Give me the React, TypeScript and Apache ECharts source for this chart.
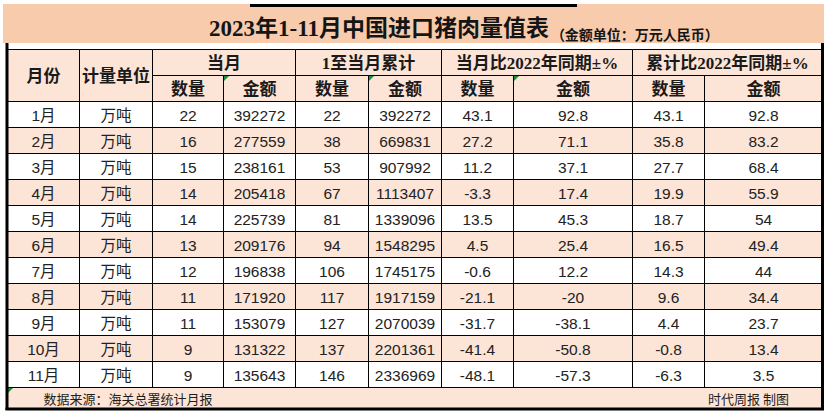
import React, { useEffect, useRef } from 'react';
import * as echarts from 'echarts';

// ---------- data ----------
const months = ['1月', '2月', '3月', '4月', '5月', '6月', '7月', '8月', '9月', '10月', '11月'];
const unitLabel = '万吨';
const monthQty = [22, 16, 15, 14, 14, 13, 12, 11, 11, 9, 9];
const monthAmt = [392272, 277559, 238161, 205418, 225739, 209176, 196838, 171920, 153079, 131322, 135643];
const cumQty = [22, 38, 53, 67, 81, 94, 106, 117, 127, 137, 146];
const cumAmt = [392272, 669831, 907992, 1113407, 1339096, 1548295, 1745175, 1917159, 2070039, 2201361, 2336969];
const monthQtyYoY = [43.1, 27.2, 11.2, -3.3, 13.5, 4.5, -0.6, -21.1, -31.7, -41.4, -48.1];
const monthAmtYoY = [92.8, 71.1, 37.1, 17.4, 45.3, 25.4, 12.2, -20, -38.1, -50.8, -57.3];
const cumQtyYoY = [43.1, 35.8, 27.7, 19.9, 18.7, 16.5, 14.3, 9.6, 4.4, -0.8, -6.3];
const cumAmtYoY = [92.8, 83.2, 68.4, 55.9, 54, 49.4, 44, 34.4, 23.7, 13.4, 3.5];

const headMonth = '月份';
const headUnit = '计量单位';
const groupHeads = ['当月', '1至当月累计', '当月比2022年同期±%', '累计比2022年同期±%'];
const subHeads = ['数量', '金额'];
const titleMain = '2023年1-11月中国进口猪肉量值表';
const titleNote = '（金额单位：万元人民币）';
const sourceNote = '数据来源：海关总署统计月报';
const creditNote = '时代周报 制图';

// ---------- layout / style ----------
const COL_EDGES = [0, 72, 145, 216, 288, 361, 434, 506, 625, 697, 815];
const HEAD_H = 26;
const ROW_H = 26;
const FOOT_H = 21;
const TABLE_W = COL_EDGES[COL_EDGES.length - 1];
const TABLE_H = HEAD_H * 2 + ROW_H * months.length + FOOT_H;
const PEACH = '#FCE4D6';
const BAND = '#F8CBAD';
const SERIF = "'Liberation Serif', 'Noto Sans CJK SC', serif";
const SANS = "'Liberation Sans', 'Noto Sans CJK SC', sans-serif";
const CJK = "'Noto Sans CJK SC', sans-serif";

type Cell = {
  c0: number; c1: number; y0: number; y1: number;
  text: string; fill: string; kind: 'head' | 'data' | 'foot'; mark?: boolean;
};

function buildCells(): Cell[] {
  const cells: Cell[] = [];
  cells.push({ c0: 0, c1: 1, y0: 0, y1: HEAD_H * 2, text: headMonth, fill: PEACH, kind: 'head' });
  cells.push({ c0: 1, c1: 2, y0: 0, y1: HEAD_H * 2, text: headUnit, fill: PEACH, kind: 'head' });
  groupHeads.forEach((g, gi) => {
    const c = 2 + gi * 2;
    cells.push({ c0: c, c1: c + 2, y0: 0, y1: HEAD_H, text: g, fill: PEACH, kind: 'head' });
    subHeads.forEach((s, si) => {
      cells.push({
        c0: c + si, c1: c + si + 1, y0: HEAD_H, y1: HEAD_H * 2, text: s, fill: PEACH, kind: 'head',
        mark: si === 1 && gi < 3,
      });
    });
  });
  months.forEach((m, i) => {
    const y0 = HEAD_H * 2 + i * ROW_H;
    const fill = i % 2 === 1 ? PEACH : '#FFFFFF';
    const vals = [
      m, unitLabel, monthQty[i], monthAmt[i], cumQty[i], cumAmt[i],
      monthQtyYoY[i], monthAmtYoY[i], cumQtyYoY[i], cumAmtYoY[i],
    ];
    vals.forEach((v, c) => {
      cells.push({ c0: c, c1: c + 1, y0, y1: y0 + ROW_H, text: String(v), fill, kind: 'data' });
    });
  });
  const fy = HEAD_H * 2 + ROW_H * months.length;
  cells.push({ c0: 0, c1: COL_EDGES.length - 1, y0: fy, y1: fy + FOOT_H, text: '', fill: PEACH, kind: 'foot', mark: true });
  return cells;
}

export default function App() {
  const ref = useRef<HTMLDivElement>(null);
  useEffect(() => {
    if (!ref.current) return;
    const chart = echarts.init(ref.current, null, { renderer: 'svg' });
    const cells = buildCells();
    const gridLeft = 7.5;
    const gridTop = 49.5;
    chart.setOption({
      animation: false,
      backgroundColor: '#FFFFFF',
      grid: { left: gridLeft, top: gridTop, width: TABLE_W, height: TABLE_H, containLabel: false },
      xAxis: { type: 'value', min: 0, max: TABLE_W, show: false },
      yAxis: { type: 'value', min: 0, max: TABLE_H, inverse: true, show: false },
      graphic: [
        { type: 'rect', shape: { x: 3, y: 4, width: 821, height: 39 }, style: { fill: BAND }, z: 0 },
        { type: 'line', shape: { x1: 250, y1: 5.5, x2: 577, y2: 5.5 }, style: { stroke: '#000', lineWidth: 3 }, z: 1 },
        {
          type: 'text', x: 209, y: 28, z: 2,
          style: {
            text: '{a|' + titleMain + '}{b|' + titleNote + '}',
            verticalAlign: 'middle',
            rich: {
              a: { fontSize: 23, fontWeight: 'bold', fontFamily: SERIF, fill: '#151515', lineHeight: 26 },
              b: { fontSize: 14, fontWeight: 'bold', fontFamily: CJK, fill: '#151515', lineHeight: 26, verticalAlign: 'bottom', padding: [6, 0, 0, 2] },
            },
          },
        },
        { type: 'line', shape: { x1: 7, y1: 43, x2: 7, y2: 410 }, style: { stroke: '#000', lineWidth: 3 }, z: 10 },
        { type: 'line', shape: { x1: 822.5, y1: 43, x2: 822.5, y2: 410 }, style: { stroke: '#000', lineWidth: 3 }, z: 10 },
        { type: 'line', shape: { x1: 5.5, y1: 409, x2: 824, y2: 409 }, style: { stroke: '#000', lineWidth: 3 }, z: 10 },
      ],
      series: [
        {
          type: 'custom',
          clip: false,
          coordinateSystem: 'cartesian2d',
          encode: { x: [0, 2], y: [1, 3] },
          data: cells.map((c) => [COL_EDGES[c.c0], c.y0, COL_EDGES[c.c1], c.y1]),
          renderItem: (params: any, api: any) => {
            const cell = cells[params.dataIndex];
            const p0 = api.coord([api.value(0), api.value(1)]);
            const p1 = api.coord([api.value(2), api.value(3)]);
            const w = p1[0] - p0[0];
            const h = p1[1] - p0[1];
            const children: any[] = [
              {
                type: 'rect',
                shape: { x: p0[0], y: p0[1], width: w, height: h },
                style: { fill: cell.fill, stroke: '#000', lineWidth: 1 },
              },
            ];
            if (cell.kind === 'head') {
              children.push({
                type: 'text',
                style: {
                  text: cell.text, x: p0[0] + w / 2, y: p0[1] + h / 2 + 1,
                  align: 'center', verticalAlign: 'middle',
                  font: 'bold 17px ' + SERIF, fill: '#1a1a1a',
                },
              });
            } else if (cell.kind === 'data') {
              children.push({
                type: 'text',
                style: {
                  text: cell.text, x: p0[0] + w / 2, y: p0[1] + h / 2 + 1,
                  align: 'center', verticalAlign: 'middle',
                  font: '15.5px ' + SANS, fill: '#222222',
                },
              });
            } else {
              children.push({
                type: 'text',
                style: {
                  text: sourceNote, x: p0[0] + 36, y: p0[1] + h / 2,
                  align: 'left', verticalAlign: 'middle',
                  font: '13px ' + CJK, fill: '#1e1e1e',
                },
              });
              children.push({
                type: 'text',
                style: {
                  text: creditNote, x: p0[0] + 741, y: p0[1] + h / 2,
                  align: 'center', verticalAlign: 'middle',
                  font: '13px ' + CJK, fill: '#1e1e1e',
                },
              });
            }
            if (cell.mark) {
              children.push({
                type: 'polygon',
                shape: { points: [[p0[0] + 0.5, p0[1] + 0.5], [p0[0] + 5.5, p0[1] + 0.5], [p0[0] + 0.5, p0[1] + 5.5]] },
                style: { fill: '#1E8E3E' },
              });
            }
            return { type: 'group', children };
          },
          z: 5,
        },
      ],
    });
    return () => chart.dispose();
  }, []);
  return <div ref={ref} style={{ width: 828, height: 416, position: 'absolute', left: 0, top: 0 }} />;
}
